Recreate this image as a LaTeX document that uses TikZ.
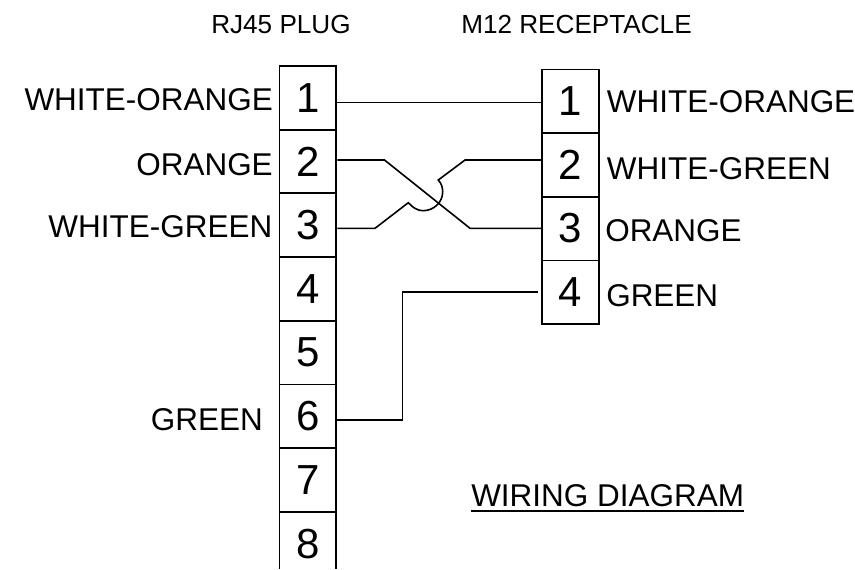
\documentclass[tikz,border=0pt]{standalone}
\usepackage{fontspec}
\setmainfont{Liberation Sans}
\tikzset{x=0.75pt,y=-0.75pt,
 pinbox/.style={draw=black,line width=1.2pt,inner sep=0pt,outer sep=0pt,font=\fontsize{31.5}{34}\selectfont,anchor=center},
 lbox/.style={pinbox,minimum width=42.4pt,minimum height=47.6pt},
 rbox/.style={pinbox,minimum width=42.8pt,minimum height=47.7pt},
 wire/.style={draw=black,line width=1.2pt,line join=miter},
 lab/.style={font=\fontsize{23.6}{26}\selectfont,inner sep=0pt},
 head/.style={font=\fontsize{19.6}{22}\selectfont,inner sep=0pt}}
\begin{document}
\begin{tikzpicture}
\useasboundingbox (0,0) rectangle (855,569);
% RJ45 plug column
\node[lbox] (L1) at (307.7,97.8) {1};
\node[lbox] (L2) at (307.7,161.5) {2};
\node[lbox] (L3) at (307.7,225.2) {3};
\node[lbox] (L4) at (307.7,288.9) {4};
\node[lbox] (L5) at (307.7,352.6) {5};
\node[lbox] (L6) at (307.7,416.3) {6};
\node[lbox] (L7) at (307.7,480) {7};
\node[lbox,draw=none] (L8) at (307.7,543.7) {8};
\coordinate (bot) at (0,569);
\draw[wire] (L8.west |- bot) -- (L8.north west) -- (L8.north east) -- (L8.east |- bot);
% M12 receptacle column
\node[rbox] (R1) at (570.5,101.3) {1};
\node[rbox] (R2) at (570.5,164.9) {2};
\node[rbox] (R3) at (570.5,228.5) {3};
\node[rbox] (R4) at (570.5,292.1) {4};
% Wire levels
\coordinate (w1) at (0,102.3);
\coordinate (w2) at (0,160);
\coordinate (w3) at (0,228.3);
\coordinate (w4) at (0,291.7);
\coordinate (w6) at (0,420);
% Wires
\draw[wire] ([xshift=1.1pt]L1.east |- w1) -- (R1.west |- w1);
\draw[wire] ([xshift=1.1pt]L2.east |- w2) -- (384.5,160) -- (470,228.3) -- (R3.west |- w3);
\draw[wire] ([xshift=1.1pt]L3.east |- w3) -- (375,228.3) -- (408.3,202.7)
  .. controls (413,208) and (418,210.7) .. (423,210.7)
  .. controls (433,210.7) and (442.7,203) .. (442.7,191.7)
  .. controls (442.7,187) and (441,183) .. (438.3,180)
  -- (465,160) -- (R2.west |- w2);
\draw[wire] ([xshift=1.1pt]L6.east |- w6) -- (402.3,420) -- (402.3,291.7) -- ([xshift=-3pt]R4.west |- w4);
% Headers
\node[head,anchor=base west] (hl) at (211,33.5) {RJ45 PLUG};
\node[head,anchor=base west] (hr) at (461,33.5) {M12 RECEPTACLE};
% Left labels
\node[lab,anchor=base east] (a1) at (273,110) {WHITE-ORANGE};
\node[lab,anchor=base east] (a2) at (273,175) {ORANGE};
\node[lab,anchor=base east] (a3) at (272.5,237.7) {WHITE-GREEN};
\node[lab,anchor=base east] (a6) at (263,430.7) {GREEN};
% Right labels
\node[lab,anchor=base west] (b1) at (606.7,112.3) {WHITE-ORANGE};
\node[lab,anchor=base west] (b2) at (606.7,179) {WHITE-GREEN};
\node[lab,anchor=base west] (b3) at (605,241) {ORANGE};
\node[lab,anchor=base west] (b4) at (606,306) {GREEN};
% Title
\node[lab,anchor=base west] (t) at (471,506.7) {WIRING DIAGRAM};
\draw[black,line width=1.5pt] ([yshift=-3.2pt]t.base west) -- ([yshift=-3.2pt]t.base east);
\end{tikzpicture}
\end{document}
